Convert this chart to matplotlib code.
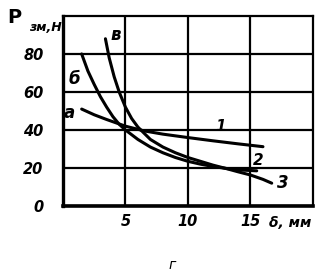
import matplotlib.pyplot as plt

# кривые P_зм(δ)
x1 = [1.5, 2.5, 3.5, 5, 6.5, 8, 10, 12, 14, 16]
y1 = [51, 48, 45.5, 42, 39.5, 37.8, 36, 34.3, 32.7, 31.2]
x2 = [1.5, 2, 2.5, 3, 3.5, 4, 4.5, 5, 6, 7, 8, 9, 10, 11, 12, 13, 14, 15.5]
y2 = [80, 71, 64, 57.5, 52, 47, 43, 40, 35, 31, 28, 25.5, 23.5, 22, 20.8, 19.8, 19, 18.5]
x3 = [3.4, 3.7, 4.1, 4.5, 5, 5.5, 6, 7, 8, 9, 10, 11, 12, 13, 14, 15, 16, 16.7]
y3 = [88, 78, 68, 60, 52, 46, 41.5, 35, 31, 28, 25.5, 23.5, 21.5, 19.8, 18, 16.3, 14, 12]

xticks = [5, 10, 15]
yticks = [0, 20, 40, 60, 80]

fig = plt.figure(figsize=(3.21, 2.75), dpi=100)
ax = fig.add_axes([0.196, 0.251, 0.779, 0.691])

for xs, ys in [(x1, y1), (x2, y2), (x3, y3)]:
    ax.plot(xs, ys, color='black', lw=2.2, solid_capstyle='round')

ax.set_xlim(0, 20)
ax.set_ylim(0, 100)
ax.set_xticks(xticks)
ax.set_yticks(yticks)
ax.tick_params(axis='y', length=0, pad=14, labelsize=10.5)
ax.tick_params(axis='x', length=0, pad=6, labelsize=10.5)
for t in ax.get_xticklabels() + ax.get_yticklabels():
    t.set_fontstyle('italic')
    t.set_fontweight('bold')
ax.grid(True, color='black', lw=1.6)
for s in ax.spines.values():
    s.set_linewidth(1.6)
ax.spines['bottom'].set_linewidth(2.6)
ax.spines['left'].set_linewidth(2.4)

font = dict(fontstyle='italic', fontweight='bold', color='black')
ax.text(0.55, 49, 'а', fontsize=12, ha='center', va='center', **font)
ax.text(0.95, 67, 'б', fontsize=12, ha='center', va='center', **font)
ax.text(4.2, 90, 'в', fontsize=12, ha='center', va='center', **font)
ax.text(12.6, 42, '1', fontsize=11, ha='center', va='center', **font)
ax.text(15.6, 24, '2', fontsize=11, ha='center', va='center', **font)
ax.text(17.6, 12, '3', fontsize=12, ha='center', va='center', **font)

fig.text(0.045, 0.935, 'P', fontsize=14, fontweight='bold', ha='center', va='center')
fig.text(0.14, 0.9, 'зм,Н', fontsize=9, ha='center', va='center', **font)
fig.text(0.905, 0.19, 'δ, мм', fontsize=10, ha='center', va='center', **font)
fig.text(0.535, 0.035, 'г', fontsize=10, fontstyle='italic', ha='center', va='center')

fig.savefig('out.png', dpi=100)
